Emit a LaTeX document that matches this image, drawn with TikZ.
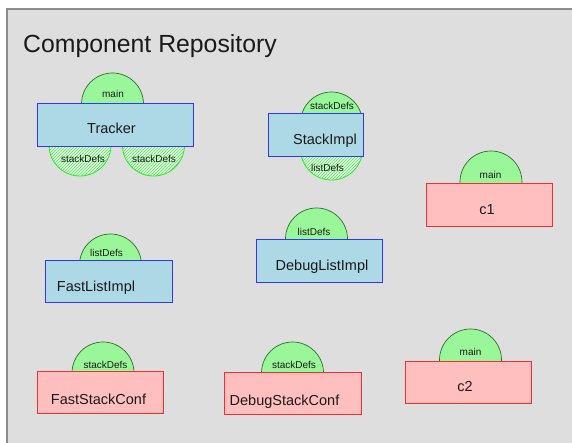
\documentclass[tikz,border=0pt]{standalone}
\usepackage{fontspec}
\setmainfont{Liberation Sans}
\usetikzlibrary{patterns}

\definecolor{panelbg}{HTML}{DEDEDE}
\definecolor{panelline}{HTML}{8C8C8C}
\definecolor{implfill}{HTML}{ADD8E6}
\definecolor{impldraw}{HTML}{3636F0}
\definecolor{conffill}{HTML}{FFBFBF}
\definecolor{confdraw}{HTML}{F03030}
\definecolor{provfill}{HTML}{99F799}
\definecolor{provdraw}{HTML}{2E6E2E}
\definecolor{reqdraw}{HTML}{22EE22}
\definecolor{reqhatch}{HTML}{55E855}
\definecolor{inktext}{HTML}{1A1A1A}

\tikzset{
  panel/.style={fill=panelbg, draw=panelline, line width=1.6pt},
  title/.style={font=\fontsize{24.8}{29}\selectfont, text=inktext, anchor=base west, inner sep=0pt},
  compbox/.style={rectangle, anchor=north west, inner sep=0pt, line width=0.9pt},
  implbox/.style={compbox, fill=implfill, draw=impldraw},
  confbox/.style={compbox, fill=conffill, draw=confdraw},
  boxtext/.style={font=\fontsize{14.5}{17}\selectfont, text=inktext, anchor=base, inner sep=0pt},
  porttext/.style={font=\fontsize{10}{12}\selectfont, text=inktext, anchor=base, inner sep=0pt},
  provport/.style={circle, minimum size=62pt, inner sep=0pt, fill=provfill, draw=provdraw, line width=0.7pt},
  reqport/.style={circle, minimum size=62pt, inner sep=0pt, draw=reqdraw, line width=0.8pt,
    preaction={fill=white!75!provfill}, pattern=north east lines, pattern color=reqhatch},
}

\begin{document}
\begin{tikzpicture}[x=1pt, y=-1pt]
  \useasboundingbox (0,0) rectangle (572,443);
  \fill[white] (0,0) rectangle (572,443);
  \draw[panel] (7,9) rectangle (585,455);
  \node[title] (repo) at (23,53) {Component Repository};

  % ports lie beneath the component boxes
  \node[provport] (trk-main) at (112.5,104) {};
  \node[reqport]  (trk-s1)   at (80,145) {};
  \node[reqport]  (trk-s2)   at (153.5,145) {};
  \node[provport] (si-stack) at (331.5,123) {};
  \node[reqport]  (si-list)  at (331.5,149) {};
  \node[provport] (c1-main)  at (491,182) {};
  \node[provport] (fl-list)  at (110.5,265) {};
  \node[provport] (dl-list)  at (316.5,239) {};
  \node[provport] (fs-stack) at (103,373) {};
  \node[provport] (ds-stack) at (292.5,373) {};
  \node[provport] (c2-main)  at (470.5,360) {};

  % components
  \node[implbox, minimum width=156pt, minimum height=43pt] (tracker)   at (37,103) {};
  \node[implbox, minimum width=95pt,  minimum height=43pt] (stackimpl) at (268,113) {};
  \node[confbox, minimum width=126pt, minimum height=43pt] (c1)        at (426,183) {};
  \node[implbox, minimum width=127pt, minimum height=42pt] (fastlist)  at (45,260) {};
  \node[implbox, minimum width=126pt, minimum height=43pt] (debuglist) at (256,239) {};
  \node[confbox, minimum width=126pt, minimum height=42pt] (faststack) at (37,371) {};
  \node[confbox, minimum width=137pt, minimum height=42pt] (debugstack) at (224,372) {};
  \node[confbox, minimum width=126pt, minimum height=42pt] (c2)        at (405,361) {};

  % component names
  \node[boxtext] (tracker-t)    at (111.5,134) {Tracker};
  \node[boxtext] (stackimpl-t)  at (325,145) {StackImpl};
  \node[boxtext] (c1-t)         at (487,215) {c1};
  \node[boxtext] (fastlist-t)   at (96,291) {FastListImpl};
  \node[boxtext] (debuglist-t)  at (322,271) {DebugListImpl};
  \node[boxtext] (faststack-t)  at (98.5,404) {FastStackConf};
  \node[boxtext] (debugstack-t) at (284.5,405) {DebugStackConf};
  \node[boxtext] (c2-t)         at (465,391) {c2};

  % port names
  \node[porttext] (trk-main-t) at (113,98) {main};
  \node[porttext] (trk-s1-t)   at (83,163) {stackDefs};
  \node[porttext] (trk-s2-t)   at (154,163) {stackDefs};
  \node[porttext] (si-stack-t) at (332,110) {stackDefs};
  \node[porttext] (si-list-t)  at (327.5,172) {listDefs};
  \node[porttext] (c1-main-t)  at (490.5,179) {main};
  \node[porttext] (fl-list-t)  at (106.5,257) {listDefs};
  \node[porttext] (dl-list-t)  at (314,236) {listDefs};
  \node[porttext] (fs-stack-t) at (105.5,368) {stackDefs};
  \node[porttext] (ds-stack-t) at (294,368) {stackDefs};
  \node[porttext] (c2-main-t)  at (470.5,355) {main};
\end{tikzpicture}
\end{document}
